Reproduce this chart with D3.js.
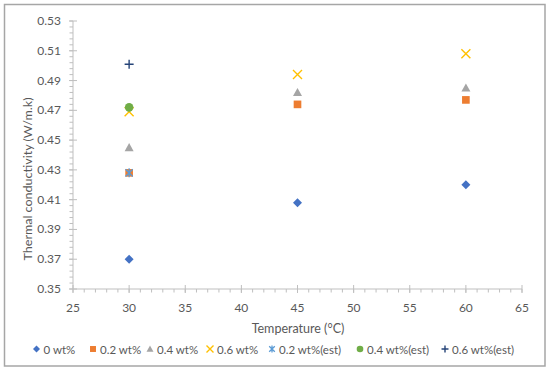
<!DOCTYPE html>
<html><head><meta charset="utf-8">
<script src="https://cdn.jsdelivr.net/npm/d3@7"></script>
<style>body{margin:0;background:#fff}svg{display:block}text{font-family:Lato,"Liberation Sans",sans-serif}</style>
</head><body>
<svg id="c" width="550" height="372"></svg>
<script>
const temps = [30, 45, 60];
const seriesNames = ["0 wt%", "0.2 wt%", "0.4 wt%", "0.6 wt%", "0.2 wt%(est)", "0.4 wt%(est)", "0.6 wt%(est)"];
const s0 = [0.370, 0.408, 0.420];
const s02 = [0.428, 0.474, 0.477];
const s04 = [0.445, 0.482, 0.485];
const s06 = [0.469, 0.494, 0.508];
const estTemps = [30];
const s02est = [0.428];
const s04est = [0.472];
const s06est = [0.501];
const xTicks = [25, 30, 35, 40, 45, 50, 55, 60, 65];
const yTicks = [0.35, 0.37, 0.39, 0.41, 0.43, 0.45, 0.47, 0.49, 0.51, 0.53];

const colors = ["#4472C4", "#ED7D31", "#A5A5A5", "#FFC000", "#5B9BD5", "#70AD47", "#264478"];
const shapes = ["diamond", "square", "triangle", "x", "star", "circle", "plus"];
const series = [
  {x: temps, y: s0}, {x: temps, y: s02}, {x: temps, y: s04}, {x: temps, y: s06},
  {x: estTemps, y: s02est}, {x: estTemps, y: s04est}, {x: estTemps, y: s06est}
];

const svg = d3.select("#c");
svg.append("rect").attr("x", 4.5).attr("y", 4.5).attr("width", 540.5).attr("height", 361.5)
  .attr("fill", "#fff").attr("stroke", "#a6a6a6").attr("stroke-width", 1.5);

const x = d3.scaleLinear().domain([25, 65]).range([73, 522]);
const y = d3.scaleLinear().domain([0.35, 0.53]).range([289, 21]);
const axisColor = "#bfbfbf";
const textColor = "#595959";

const g = svg.append("g");
d3.range(25, 65.001, 1).forEach(v => {
  g.append("line").attr("x1", x(v)).attr("x2", x(v)).attr("y1", y(0.35)).attr("y2", y(0.35) + 3.5)
    .attr("stroke", axisColor);
});
d3.range(0.35, 0.5301, 0.004).forEach(v => {
  g.append("line").attr("x1", x(25) - 3.5).attr("x2", x(25)).attr("y1", y(v)).attr("y2", y(v))
    .attr("stroke", axisColor);
});
xTicks.forEach(v => {
  g.append("line").attr("x1", x(v)).attr("x2", x(v)).attr("y1", y(0.35) - 4).attr("y2", y(0.35) + 4)
    .attr("stroke", axisColor);
  g.append("text").attr("x", x(v)).attr("y", 312).attr("text-anchor", "middle")
    .attr("font-size", 12).attr("fill", textColor).text(v);
});
yTicks.forEach(v => {
  g.append("line").attr("x1", x(25) - 4).attr("x2", x(25) + 4).attr("y1", y(v)).attr("y2", y(v))
    .attr("stroke", axisColor);
  g.append("text").attr("x", 61).attr("y", y(v) + 4).attr("text-anchor", "end")
    .attr("font-size", 12).attr("fill", textColor).text(v.toFixed(2));
});
g.append("line").attr("x1", x(25)).attr("x2", x(65)).attr("y1", y(0.35)).attr("y2", y(0.35)).attr("stroke", axisColor);
g.append("line").attr("x1", x(25)).attr("x2", x(25)).attr("y1", y(0.35)).attr("y2", y(0.53)).attr("stroke", axisColor);

svg.append("text").attr("x", 298).attr("y", 333).attr("text-anchor", "middle")
  .attr("font-size", 12.5).attr("fill", textColor).text("Temperature (°C)");
svg.append("text").attr("transform", "translate(31.5,179) rotate(-90)").attr("text-anchor", "middle")
  .attr("font-size", 12).attr("textLength", 163).attr("lengthAdjust", "spacingAndGlyphs")
  .attr("fill", textColor).text("Thermal conductivity (W/m.k)");

function drawMarker(sel, shape, color, cx, cy, s) {
  const r = s / 2;
  if (shape === "diamond") sel.append("path").attr("d", `M${cx},${cy-r}L${cx+r},${cy}L${cx},${cy+r}L${cx-r},${cy}Z`).attr("fill", color);
  else if (shape === "square") sel.append("rect").attr("x", cx - r*0.85).attr("y", cy - r*0.85).attr("width", s*0.85).attr("height", s*0.85).attr("fill", color);
  else if (shape === "triangle") sel.append("path").attr("d", `M${cx},${cy-r}L${cx+r},${cy+r*0.8}L${cx-r},${cy+r*0.8}Z`).attr("fill", color);
  else if (shape === "circle") sel.append("circle").attr("cx", cx).attr("cy", cy).attr("r", r*0.95).attr("fill", color);
  else if (shape === "x") sel.append("path").attr("d", `M${cx-r},${cy-r}L${cx+r},${cy+r}M${cx+r},${cy-r}L${cx-r},${cy+r}`).attr("stroke", color).attr("stroke-width", 1.4).attr("fill", "none");
  else if (shape === "plus") sel.append("path").attr("d", `M${cx-r},${cy}L${cx+r},${cy}M${cx},${cy-r}L${cx},${cy+r}`).attr("stroke", color).attr("stroke-width", 1.4).attr("fill", "none");
  else if (shape === "star") sel.append("path").attr("d", `M${cx-r*0.8},${cy-r*0.8}L${cx+r*0.8},${cy+r*0.8}M${cx+r*0.8},${cy-r*0.8}L${cx-r*0.8},${cy+r*0.8}M${cx},${cy-r}L${cx},${cy+r}`).attr("stroke", color).attr("stroke-width", 1.3).attr("fill", "none");
}

const mk = svg.append("g");
series.forEach((s, i) => {
  s.x.forEach((xv, j) => drawMarker(mk, shapes[i], colors[i], x(xv), y(s.y[j]), 9));
});

const legX = [36.5, 93, 150, 210, 272, 360, 445];
const lg = svg.append("g");
seriesNames.forEach((n, i) => {
  drawMarker(lg, shapes[i], colors[i], legX[i], 349, 7);
  lg.append("text").attr("x", legX[i] + 7).attr("y", 353.5).attr("font-size", 11.5)
    .attr("fill", textColor).text(n);
});
</script>
</body></html>
